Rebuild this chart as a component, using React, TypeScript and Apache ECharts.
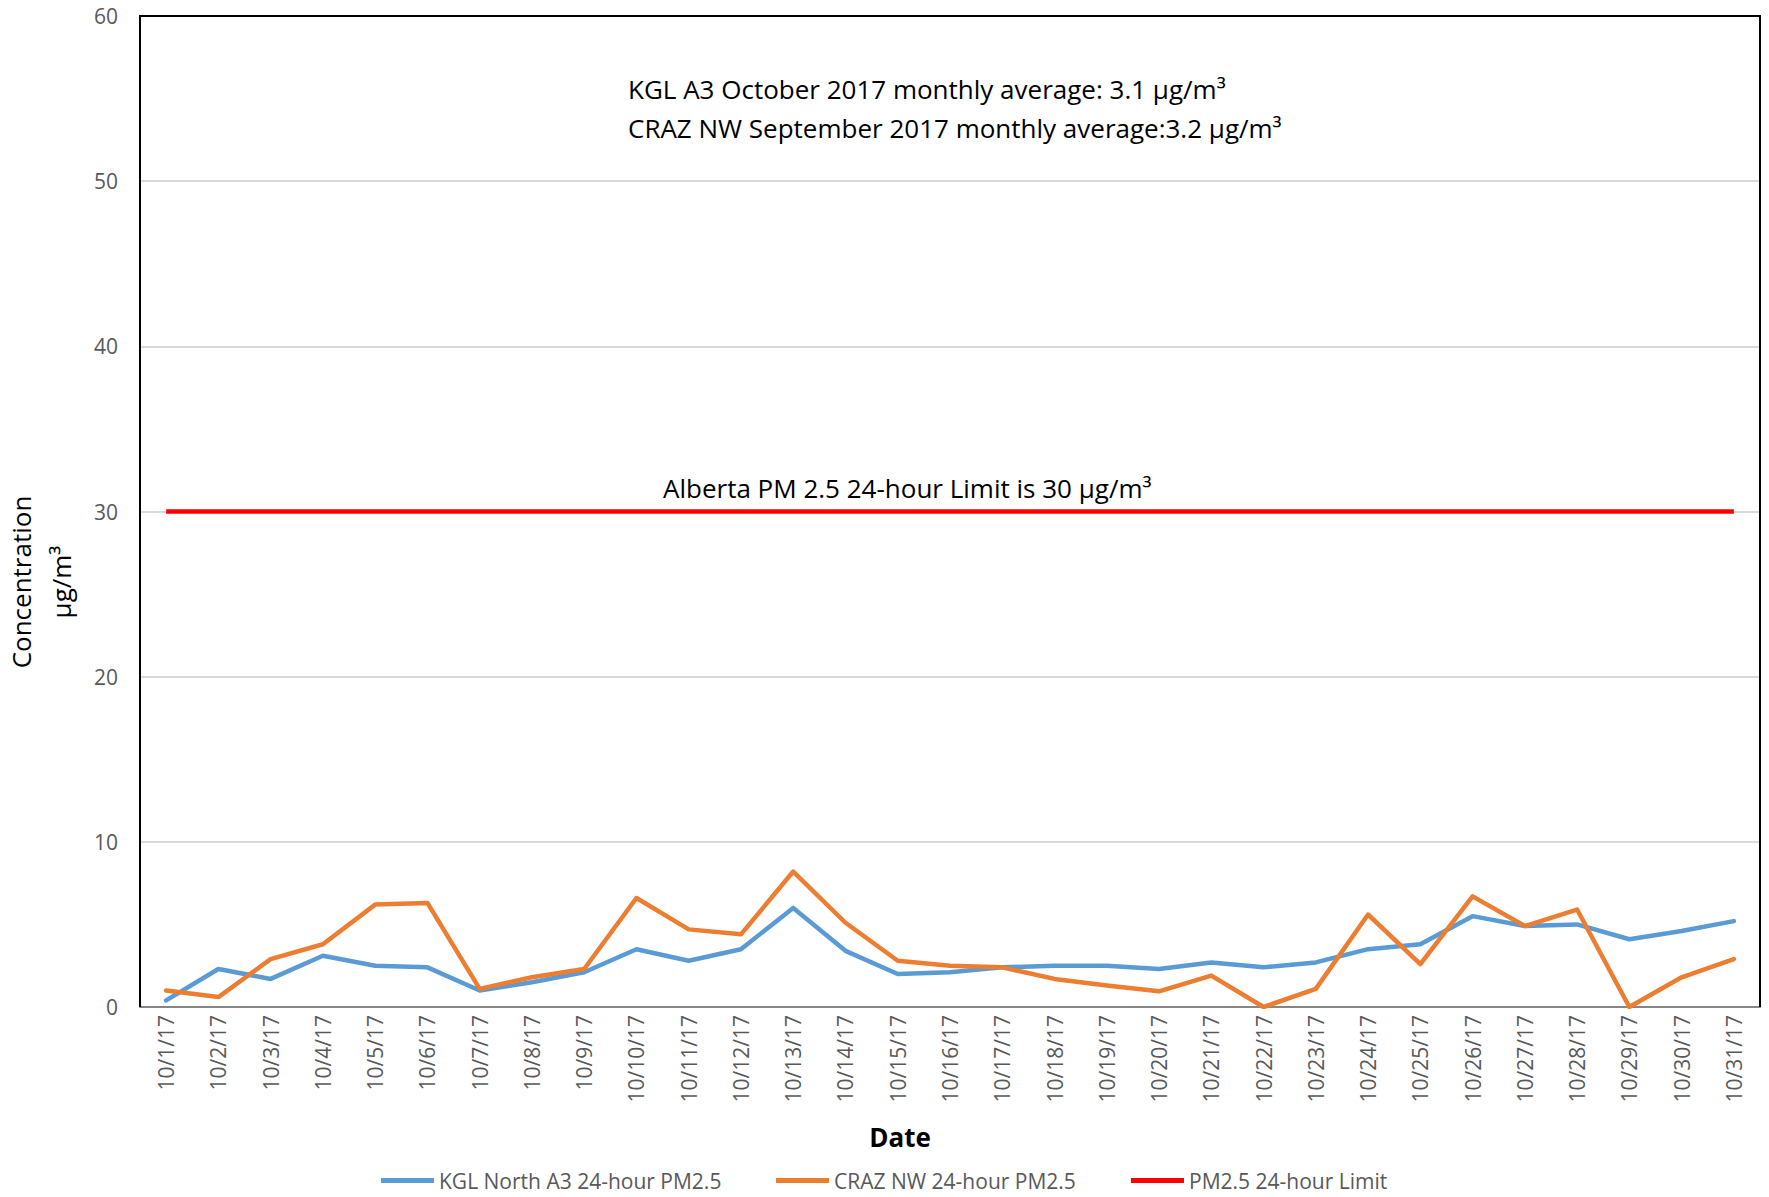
import React, { useEffect, useRef } from "react";
import * as echarts from "echarts";

const categories = [
  "10/1/17", "10/2/17", "10/3/17", "10/4/17", "10/5/17", "10/6/17", "10/7/17", "10/8/17",
  "10/9/17", "10/10/17", "10/11/17", "10/12/17", "10/13/17", "10/14/17", "10/15/17", "10/16/17",
  "10/17/17", "10/18/17", "10/19/17", "10/20/17", "10/21/17", "10/22/17", "10/23/17", "10/24/17",
  "10/25/17", "10/26/17", "10/27/17", "10/28/17", "10/29/17", "10/30/17", "10/31/17",
];

const kglNorthA3 = [
  0.4, 2.3, 1.7, 3.1, 2.5, 2.4, 1.0, 1.5, 2.1, 3.5, 2.8, 3.5, 6.0, 3.4, 2.0, 2.1,
  2.4, 2.5, 2.5, 2.3, 2.7, 2.4, 2.7, 3.5, 3.8, 5.5, 4.9, 5.0, 4.1, 4.6, 5.2,
];

const crazNW = [
  1.0, 0.6, 2.9, 3.8, 6.2, 6.3, 1.1, 1.8, 2.3, 6.6, 4.7, 4.4, 8.2, 5.1, 2.8, 2.5,
  2.4, 1.7, 1.3, 0.95, 1.9, 0.0, 1.1, 5.6, 2.6, 6.7, 4.9, 5.9, 0.0, 1.8, 2.9,
];

const limitValues = categories.map(() => 30);

const seriesNames = ["KGL North A3 24-hour PM2.5", "CRAZ NW 24-hour PM2.5", "PM2.5 24-hour Limit"];
const seriesColors = ["#5B9BD5", "#ED7D31", "#FF0000"];

const yMin = 0;
const yMax = 60;
const yInterval = 10;

const annotationLines = [
  "KGL A3 October 2017 monthly average: 3.1 μg/m³",
  "CRAZ NW September 2017 monthly average:3.2 μg/m³",
];
const limitLabel = "Alberta PM 2.5 24-hour Limit is 30 μg/m³";

const FONT = "'Open Sans', 'Noto Sans', sans-serif";

export default function App() {
  const ref = useRef<HTMLDivElement>(null);

  useEffect(() => {
    if (!ref.current) return;
    const chart = echarts.init(ref.current, undefined, { renderer: "svg" });
    const legendLefts = [381, 776, 1131];
    const gl = 140, gt = 16, gw = 1620, gh = 991;
    chart.setOption({
      animation: false,
      backgroundColor: "#ffffff",
      textStyle: { fontFamily: FONT },
      grid: {
        left: gl,
        top: gt,
        width: gw,
        height: gh,
        show: false,
        containLabel: false,
      },
      legend: seriesNames.map((n, i) => ({
        data: [n],
        left: legendLefts[i],
        top: 1170,
        padding: 0,
        icon: "rect",
        itemWidth: 53,
        itemHeight: 5,
        textStyle: { fontSize: 21, color: "#595959", fontFamily: FONT },
      })),
      xAxis: {
        type: "category",
        data: categories,
        boundaryGap: true,
        axisLine: { show: true, lineStyle: { color: "#868686", width: 2 } },
        axisTick: { show: false },
        axisLabel: {
          rotate: 90,
          interval: 0,
          margin: 8,
          fontSize: 21,
          color: "#595959",
          fontFamily: FONT,
        },
        splitLine: { show: false },
      },
      yAxis: {
        type: "value",
        min: yMin,
        max: yMax,
        interval: yInterval,
        axisLine: { show: false },
        axisTick: { show: false },
        axisLabel: { margin: 22, fontSize: 21, color: "#595959", fontFamily: FONT },
        splitLine: { show: true, lineStyle: { color: "#D9D9D9", width: 2 } },
      },
      series: [
        {
          name: seriesNames[0],
          type: "line",
          data: kglNorthA3,
          showSymbol: false,
          symbol: "none",
          color: seriesColors[0],
          lineStyle: { color: seriesColors[0], width: 4.5, cap: "round", join: "round" },
        },
        {
          name: seriesNames[1],
          type: "line",
          data: crazNW,
          showSymbol: false,
          symbol: "none",
          color: seriesColors[1],
          lineStyle: { color: seriesColors[1], width: 4.5, cap: "round", join: "round" },
        },
        {
          name: seriesNames[2],
          type: "line",
          data: limitValues,
          showSymbol: false,
          symbol: "none",
          color: seriesColors[2],
          lineStyle: { color: seriesColors[2], width: 4.5 },
        },
      ],
      graphic: [
        {
          type: "polyline",
          z: 100,
          shape: {
            points: [
              [gl, gt + gh],
              [gl, gt],
              [gl + gw, gt],
              [gl + gw, gt + gh],
            ],
          },
          style: { stroke: "#000000", lineWidth: 2, fill: null },
        },
        {
          type: "text",
          left: 628,
          top: 76,
          style: {
            text: annotationLines[0],
            font: `26px ${FONT}`,
            fill: "#000000",
          },
        },
        {
          type: "text",
          left: 628,
          top: 115,
          style: {
            text: annotationLines[1],
            font: `26px ${FONT}`,
            fill: "#000000",
          },
        },
        {
          type: "text",
          left: 663,
          top: 475,
          style: {
            text: limitLabel,
            font: `26px ${FONT}`,
            fill: "#000000",
          },
        },
        {
          type: "text",
          x: 21,
          y: 582,
          rotation: Math.PI / 2,
          style: {
            text: "Concentration",
            font: `26px ${FONT}`,
            fill: "#000000",
            align: "center",
            verticalAlign: "middle",
          },
        },
        {
          type: "text",
          x: 61,
          y: 582,
          rotation: Math.PI / 2,
          style: {
            text: "μg/m³",
            font: `26px ${FONT}`,
            fill: "#000000",
            align: "center",
            verticalAlign: "middle",
          },
        },
        {
          type: "text",
          x: 900,
          y: 1137,
          style: {
            text: "Date",
            font: `bold 26px ${FONT}`,
            fill: "#000000",
            align: "center",
            verticalAlign: "middle",
          },
        },
      ],
    });
    return () => chart.dispose();
  }, []);

  return (
    <div
      ref={ref}
      style={{ position: "fixed", left: 0, top: 0, width: 1769, height: 1197 }}
    />
  );
}
